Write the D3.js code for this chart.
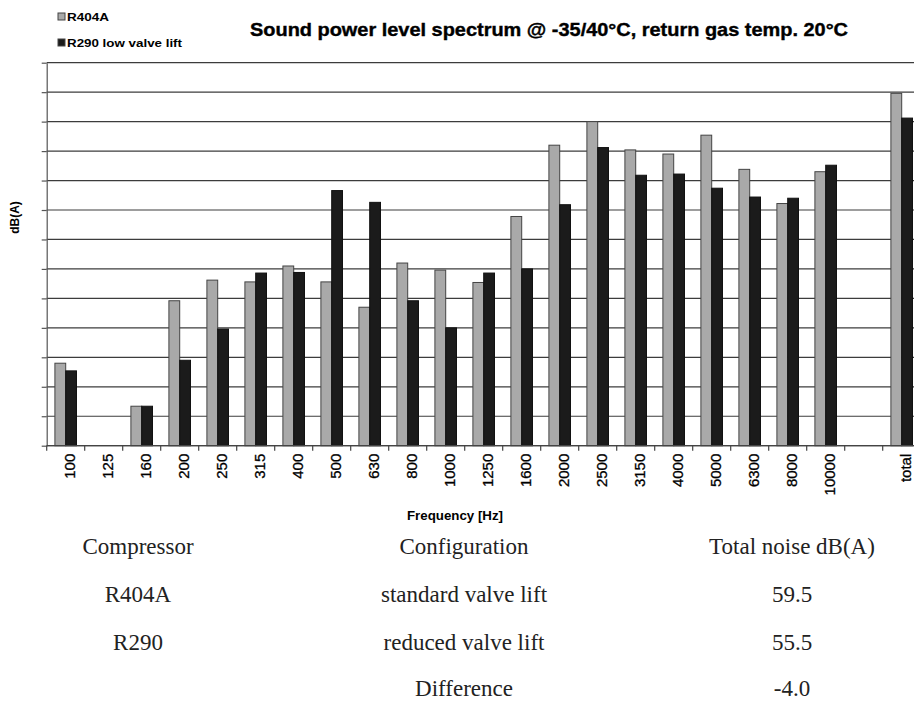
<!DOCTYPE html>
<html><head><meta charset="utf-8">
<script src="https://cdn.jsdelivr.net/npm/d3@7"></script>
<style>body{margin:0;background:#fff}svg{display:block}</style>
</head><body><svg id="c" width="914" height="701"></svg>
<script>
const categories = ["100","125","160","200","250","315","400","500","630","800","1000","1250","1600","2000","2500","3150","4000","5000","6300","8000","10000","","total"];
const r404a = [14.0,null,6.7,24.6,28.1,27.8,30.5,27.8,23.5,31.0,29.8,27.7,38.9,51.0,55.0,50.2,49.5,52.7,46.9,41.1,46.5,null,59.8];
const r290  = [12.7,null,6.7,14.5,19.8,29.3,29.4,43.3,41.3,24.6,20.0,29.3,30.0,40.9,50.6,45.9,46.1,43.7,42.2,42.0,47.6,null,55.6];
const seriesNames = ["R404A","R290 low valve lift"];
const seriesColors = ["#a9a9a9","#1b1b1b"];
const yTicks = d3.range(0, 66, 5);
const tableHeader = ["Compressor","Configuration","Total noise dB(A)"];
const tableRows = [["R404A","standard valve lift","59.5"],["R290","reduced valve lift","55.5"],["","Difference","-4.0"]];

const svg = d3.select("#c");
const L = 46.7, R = 920.7, T = 62.7, B = 445.7;
const sans = "'Liberation Sans', Arial, sans-serif";
const serif = "'Liberation Serif', 'Times New Roman', serif";

const x = d3.scaleBand().domain(d3.range(categories.length)).range([L, R]).padding(0);
const xs = d3.scaleBand().domain([0, 1]).range([0, x.bandwidth()]).paddingInner(0).paddingOuter(0.76);
const y = d3.scaleLinear().domain([0, 65]).range([B, T]);

// gridlines
svg.append("g").selectAll("line").data(yTicks).join("line")
  .attr("x1", L).attr("x2", 914).attr("y1", d => y(d)).attr("y2", d => y(d))
  .attr("stroke", "#3c3c3c").attr("stroke-width", 1.2);

// left axis
const ya = svg.append("g").attr("transform", `translate(${L},0)`)
  .call(d3.axisLeft(y).tickValues(yTicks).tickFormat("").tickSize(5).tickSizeOuter(0));
ya.selectAll("path,line").attr("stroke", "#555").attr("stroke-width", 1.2);

// bars
const data = categories.map((c, i) => ({i, vals: [r404a[i], r290[i]]}));
const groups = svg.append("g").selectAll("g").data(data).join("g")
  .attr("transform", d => `translate(${x(d.i)},0)`);
groups.selectAll("rect").data(d => d.vals.map((v, s) => ({v, s})).filter(e => e.v != null)).join("rect")
  .attr("x", e => xs(e.s)).attr("width", xs.bandwidth())
  .attr("y", e => y(e.v)).attr("height", e => B - y(e.v))
  .attr("fill", e => seriesColors[e.s])
  .attr("stroke", e => e.s === 0 ? "#444" : "#111").attr("stroke-width", 1);

// bottom axis line + ticks at slot boundaries
svg.append("line").attr("x1", L).attr("x2", 914).attr("y1", B).attr("y2", B)
  .attr("stroke", "#444").attr("stroke-width", 1.2);
svg.append("g").selectAll("line").data(d3.range(categories.length)).join("line")
  .attr("x1", i => x(i)).attr("x2", i => x(i)).attr("y1", B).attr("y2", B + 5)
  .attr("stroke", "#444").attr("stroke-width", 1.2);

// x labels
svg.append("g").selectAll("text").data(data.filter(d => categories[d.i] !== "")).join("text")
  .attr("transform", d => `translate(${x(d.i) + x.bandwidth() / 2 + 4},${B + 8}) rotate(-90)`)
  .attr("text-anchor", "end").attr("dy", "0.35em")
  .attr("font-family", sans).attr("font-size", 15).attr("fill", "#000")
  .attr("stroke", "#000").attr("stroke-width", 0.3)
  .text(d => categories[d.i]);

// axis titles
svg.append("text").attr("transform", "translate(19,217.5) rotate(-90)")
  .attr("text-anchor", "middle").attr("font-family", sans).attr("font-weight", "bold")
  .attr("font-size", 12).text("dB(A)");
svg.append("text").attr("x", 455).attr("y", 520).attr("text-anchor", "middle")
  .attr("font-family", sans).attr("font-weight", "bold").attr("font-size", 12)
  .attr("textLength", 96).attr("lengthAdjust", "spacingAndGlyphs").text("Frequency [Hz]");

// title
svg.append("text").attr("x", 549).attr("y", 36).attr("text-anchor", "middle")
  .attr("font-family", sans).attr("font-weight", "bold").attr("font-size", 19)
  .attr("stroke", "#000").attr("stroke-width", 0.4)
  .attr("textLength", 598).attr("lengthAdjust", "spacingAndGlyphs")
  .text("Sound power level spectrum @ -35/40°C, return gas temp. 20°C");

// legend
const lg = svg.append("g").selectAll("g").data(seriesNames).join("g")
  .attr("transform", (d, i) => `translate(58,${13 + i * 26})`);
lg.append("rect").attr("width", 7).attr("height", 7)
  .attr("fill", (d, i) => seriesColors[i]).attr("stroke", "#444").attr("stroke-width", 1);
lg.append("text").attr("x", 9).attr("y", 7.5)
  .attr("font-family", sans).attr("font-weight", "bold").attr("font-size", 11.5)
  .attr("textLength", (d, i) => i === 0 ? 42 : 115).attr("lengthAdjust", "spacingAndGlyphs")
  .text(d => d);

// table
const colX = [138, 464, 792];
const rowY = [554, 602, 650, 696];
const allRows = [tableHeader, ...tableRows];
const tg = svg.append("g");
allRows.forEach((row, r) => {
  row.forEach((cell, c) => {
    if (cell === "") return;
    tg.append("text").attr("x", colX[c]).attr("y", rowY[r]).attr("text-anchor", "middle")
      .attr("font-family", serif).attr("font-size", 23).attr("fill", "#222").text(cell);
  });
});
</script>
</body></html>
